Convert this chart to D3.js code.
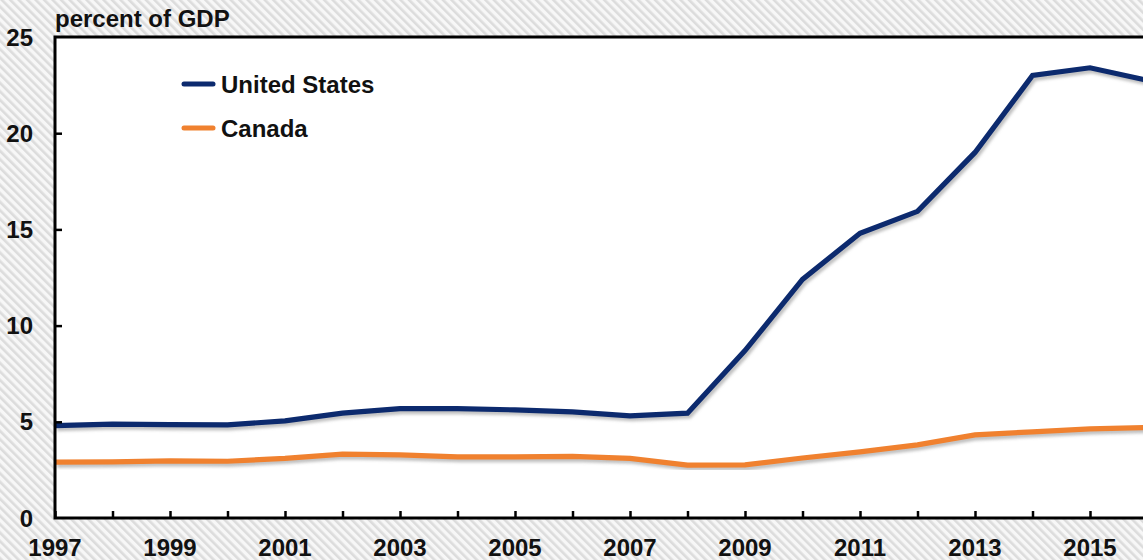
<!DOCTYPE html>
<html>
<head>
<meta charset="utf-8">
<script src="https://cdn.jsdelivr.net/npm/d3@7"></script>
<style>
  html, body { margin: 0; padding: 0; overflow: hidden; background: #fff; }
  svg { display: block; }
  text { font-family: "Liberation Sans", Arial, sans-serif; font-weight: bold; fill: #111; }
</style>
</head>
<body>
<svg id="chart" width="1143" height="560"></svg>
<script>
const years = [1997,1998,1999,2000,2001,2002,2003,2004,2005,2006,2007,2008,2009,2010,2011,2012,2013,2014,2015,2016];
const unitedStates = [4.8,4.88,4.85,4.84,5.05,5.45,5.68,5.68,5.62,5.52,5.31,5.45,8.7,12.4,14.8,15.94,19.0,23.0,23.4,22.75];
const canada = [2.9,2.92,2.97,2.95,3.1,3.32,3.28,3.18,3.18,3.2,3.1,2.75,2.76,3.12,3.44,3.8,4.32,4.48,4.63,4.7];
const yTicks = [0,5,10,15,20,25];
const xLabelYears = [1997,1999,2001,2003,2005,2007,2009,2011,2013,2015];
const seriesNames = ["United States","Canada"];
const seriesColors = ["#0c2a6e","#f0812f"];
const yTitle = "percent of GDP";

(function(){
const svg = d3.select("#chart");
const W = 1143, H = 560;
const mLeft = 55, mTop = 37, mBottom = 518;
const x = d3.scaleLinear().domain([1997, 2016]).range([mLeft, mLeft + 57.5 * 19]);
const y = d3.scaleLinear().domain([0, 25]).range([mBottom, mTop]);

const defs = svg.append("defs");
const pat = defs.append("pattern").attr("id","hatch").attr("patternUnits","userSpaceOnUse")
  .attr("width",6).attr("height",6).attr("patternTransform","rotate(-45)");
pat.append("rect").attr("width",6).attr("height",6).attr("fill","#f7f7f7");
pat.append("rect").attr("width",2.6).attr("height",6).attr("fill","#dcdcdc");
const blur = defs.append("filter").attr("id","shadow").attr("x","-5%").attr("y","-5%").attr("width","110%").attr("height","110%");
blur.append("feGaussianBlur").attr("stdDeviation",1.6);

svg.append("rect").attr("width",W).attr("height",H).attr("fill","url(#hatch)");
svg.append("rect").attr("x",mLeft).attr("y",mTop).attr("width",1200).attr("height",mBottom-mTop).attr("fill","#fff");

const line = d3.line().x((d,i)=>x(years[i])).y(d=>y(d));
const seriesData = [unitedStates, canada];

seriesData.forEach(s => {
  svg.append("path").datum(s).attr("d", line).attr("fill","none")
    .attr("stroke","#8a8a8a").attr("stroke-width",5).attr("stroke-opacity",0.55)
    .attr("transform","translate(2,3)").attr("filter","url(#shadow)");
});
seriesData.forEach((s,k) => {
  svg.append("path").datum(s).attr("d", line).attr("fill","none")
    .attr("stroke",seriesColors[k]).attr("stroke-width",5.2);
});

svg.append("rect").attr("x",mLeft).attr("y",mTop).attr("width",1200).attr("height",mBottom-mTop)
  .attr("fill","none").attr("stroke","#000").attr("stroke-width",3);

const xAxis = d3.axisBottom(x).tickValues(years).tickSize(-7).tickFormat("");
const gx = svg.append("g").attr("transform",`translate(0,${mBottom})`).call(xAxis);
gx.select(".domain").remove();
gx.selectAll("line").attr("stroke","#000").attr("stroke-width",2.5);

const yAxis = d3.axisLeft(y).tickValues(yTicks.filter(v=>v>0 && v<25)).tickSize(-7).tickFormat("");
const gy = svg.append("g").attr("transform",`translate(${mLeft},0)`).call(yAxis);
gy.select(".domain").remove();
gy.selectAll("line").attr("stroke","#000").attr("stroke-width",2.5);

svg.selectAll(".ylab").data(yTicks).enter().append("text")
  .attr("x",33).attr("y",d=>y(d)+8.5).attr("text-anchor","end")
  .style("font-size","24px").text(d=>d);

svg.selectAll(".xlab").data(xLabelYears).enter().append("text")
  .attr("x",d=>x(d)).attr("y",556).attr("text-anchor","middle")
  .style("font-size","24px").text(d=>d);

svg.append("text").attr("x",55).attr("y",27).style("font-size","24px").text(yTitle);

seriesNames.forEach((n,k) => {
  const ly = 84 + k*44;
  svg.append("line").attr("x1",184).attr("x2",213).attr("y1",ly).attr("y2",ly)
    .attr("stroke",seriesColors[k]).attr("stroke-width",5).attr("stroke-linecap","round");
  svg.append("text").attr("x",221).attr("y",ly+8.5).style("font-size","24px").text(n);
});
})();
</script>
</body>
</html>
